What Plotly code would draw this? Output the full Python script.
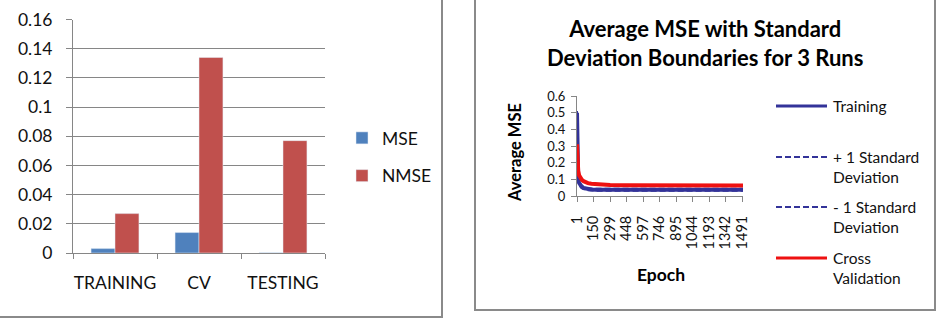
import plotly.graph_objects as go

W, H = 938, 326

# ---- Left chart data ----
categories = ["TRAINING", "CV", "TESTING"]
mse_values = [0.003, 0.014, 0.0002]
nmse_values = [0.027, 0.134, 0.077]

# ---- Right chart data (values read at selected epochs) ----
epochs = [1, 2, 3, 5, 8, 12, 20, 30, 45, 60, 80, 100, 130, 170, 220, 300, 450, 600, 800, 1000, 1200, 1500]
training = [0.50, 0.30, 0.22, 0.16, 0.125, 0.10, 0.078, 0.064, 0.054, 0.048, 0.044, 0.041, 0.039, 0.038, 0.038, 0.037, 0.037, 0.037, 0.037, 0.037, 0.037, 0.037]
plus_sd = [0.51, 0.31, 0.23, 0.17, 0.133, 0.108, 0.085, 0.071, 0.061, 0.055, 0.050, 0.047, 0.045, 0.044, 0.044, 0.043, 0.043, 0.043, 0.043, 0.043, 0.043, 0.043]
minus_sd = [0.49, 0.29, 0.21, 0.15, 0.117, 0.092, 0.071, 0.057, 0.047, 0.041, 0.037, 0.035, 0.033, 0.032, 0.032, 0.031, 0.031, 0.031, 0.031, 0.031, 0.031, 0.031]
cross_val = [0.31, 0.27, 0.24, 0.20, 0.17, 0.15, 0.125, 0.11, 0.097, 0.089, 0.081, 0.077, 0.073, 0.070, 0.068, 0.066, 0.065, 0.064, 0.064, 0.063, 0.063, 0.063]
epoch_ticks = [1, 150, 299, 448, 597, 746, 895, 1044, 1193, 1342, 1491]

FONT = "Lato"
GRAY = "#868686"
BLUE = "#333399"
RED = "#EE1111"


def px(x):
    return x / W


def py(y):
    return (H - y) / H


fig = go.Figure()

fig.add_trace(go.Bar(x=categories, y=mse_values, name="MSE", marker_color="#4F81BD",
                     xaxis="x", yaxis="y", legendgroup="a"))
fig.add_trace(go.Bar(x=categories, y=nmse_values, name="NMSE", marker_color="#C0504D",
                     xaxis="x", yaxis="y", legendgroup="b"))

fig.add_trace(go.Scatter(x=epochs, y=training, mode="lines", name="Training",
                         line=dict(color=BLUE, width=4), xaxis="x2", yaxis="y2", showlegend=False))
fig.add_trace(go.Scatter(x=epochs, y=plus_sd, mode="lines", name="+ 1 Standard Deviation",
                         line=dict(color=BLUE, width=2, dash="6px,3px"), xaxis="x2", yaxis="y2", showlegend=False))
fig.add_trace(go.Scatter(x=epochs, y=minus_sd, mode="lines", name="- 1 Standard Deviation",
                         line=dict(color=BLUE, width=2, dash="6px,3px"), xaxis="x2", yaxis="y2", showlegend=False))
fig.add_trace(go.Scatter(x=epochs, y=cross_val, mode="lines", name="Cross Validation",
                         line=dict(color=RED, width=4), xaxis="x2", yaxis="y2", showlegend=False))

shapes = [
    dict(type="rect", xref="paper", yref="paper", x0=-0.01, x1=px(442), y0=py(317), y1=1.02,
         line=dict(color="#8A8A8A", width=2), fillcolor="rgba(0,0,0,0)", layer="below"),
    dict(type="rect", xref="paper", yref="paper", x0=px(475), x1=px(935), y0=py(310), y1=1.02,
         line=dict(color="#8A8A8A", width=2), fillcolor="rgba(0,0,0,0)", layer="below"),
]

# manual legend for right chart
leg_items = [
    ("Training", 106, BLUE, 3, "solid"),
    ("+ 1 Standard<br>Deviation", 157, BLUE, 2, "6px,3px"),
    ("- 1 Standard<br>Deviation", 207, BLUE, 2, "6px,3px"),
    ("Cross<br>Validation", 258, RED, 3, "solid"),
]
annotations = []
for text, yy, col, wd, dash in leg_items:
    shapes.append(dict(type="line", xref="paper", yref="paper", x0=px(776), x1=px(827),
                       y0=py(yy), y1=py(yy), line=dict(color=col, width=wd, dash=dash)))
    annotations.append(dict(text=text, xref="paper", yref="paper", x=px(831), y=py(yy - 11),
                            xanchor="left", yanchor="top", align="left", showarrow=False,
                            font=dict(family=FONT, size=15.5, color="#111")))

annotations.append(dict(text="<b>Average MSE with Standard<br>Deviation Boundaries for 3 Runs</b>",
                        xref="paper", yref="paper", x=px(705), y=py(43), xanchor="center",
                        yanchor="middle", showarrow=False,
                        font=dict(family=FONT, size=22, color="#000")))
annotations.append(dict(text="<b>Average MSE</b>", xref="paper", yref="paper", x=px(515), y=py(153),
                        textangle=-90, xanchor="center", yanchor="middle", showarrow=False,
                        font=dict(family=FONT, size=16.5, color="#000")))
annotations.append(dict(text="<b>Epoch</b>", xref="paper", yref="paper", x=px(661), y=py(274),
                        xanchor="center", yanchor="middle", showarrow=False,
                        font=dict(family=FONT, size=17.5, color="#000")))

fig.update_layout(
    width=W, height=H,
    margin=dict(l=0, r=0, t=0, b=0, pad=0),
    paper_bgcolor="white", plot_bgcolor="white",
    font=dict(family=FONT, color="#111"),
    barmode="group", bargap=0.43, bargroupgap=0,
    showlegend=True,
    legend=dict(x=px(342), y=py(157), xanchor="left", yanchor="middle",
                font=dict(family=FONT, size=17.5, color="#111"),
                traceorder="grouped", tracegroupgap=12, bgcolor="rgba(0,0,0,0)"),
    xaxis=dict(domain=[px(73), px(325)], anchor="y", type="category", automargin=False,
               showline=True, linecolor=GRAY, linewidth=1, ticks="outside", tickson="boundaries",
               ticklen=5, tickcolor=GRAY, showgrid=False, ticklabelstandoff=14, tickangle=0,
               tickfont=dict(family=FONT, size=17.5, color="#111")),
    yaxis=dict(domain=[py(253), py(19.5)], anchor="x", range=[0, 0.16], dtick=0.02,
               automargin=False,
               showline=True, linecolor=GRAY, linewidth=1, ticks="outside", ticklen=6,
               tickcolor=GRAY, showgrid=True, gridcolor=GRAY, gridwidth=1, zeroline=False,
               ticklabelstandoff=10,
               tickfont=dict(family=FONT, size=17.5, color="#111")),
    xaxis2=dict(domain=[px(577), px(743)], anchor="y2", type="linear", range=[1, 1500],
                automargin=False,
                tickmode="array", tickvals=epoch_ticks, ticktext=[str(t) for t in epoch_ticks],
                tickangle=-90, showline=True, linecolor=GRAY, linewidth=1, ticks="outside",
                ticklen=5, tickcolor=GRAY, showgrid=False, zeroline=False, ticklabelstandoff=8,
                tickfont=dict(family=FONT, size=14.5, color="#111")),
    yaxis2=dict(domain=[py(196), py(96)], anchor="x2", range=[0, 0.6], dtick=0.1,
                automargin=False,
                showline=True, linecolor=GRAY, linewidth=1, ticks="outside", ticklen=5,
                tickcolor=GRAY, showgrid=False, zeroline=False, ticklabelstandoff=3,
                tickfont=dict(family=FONT, size=13, color="#111")),
    shapes=shapes,
    annotations=annotations,
)

fig.write_html("out.html")
